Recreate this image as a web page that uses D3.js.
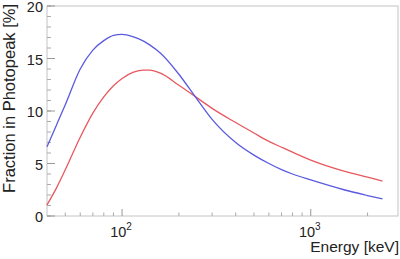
<!DOCTYPE html>
<html>
<head>
<meta charset="utf-8">
<script src="https://d3js.org/d3.v7.min.js"></script>
<style>
  body { margin: 0; background: #fff; }
  * { font-family: "Liberation Sans", Arial, sans-serif; }
</style>
</head>
<body>
<svg id="chart" width="400" height="259"></svg>
<script>
// energies in keV
const energy = [40, 45, 50, 60, 70, 80, 90, 100, 115, 130, 140, 160, 200, 250, 300, 400, 500, 600, 700, 800, 1000, 1500, 2000, 2400];
// blue curve (fraction in photopeak, %)
const blueVals = [6.6, 8.7, 10.6, 14.0, 15.8, 16.7, 17.2, 17.3, 17.05, 16.65, 16.3, 15.5, 13.5, 11.1, 9.2, 7.0, 5.8, 5.0, 4.42, 4.0, 3.43, 2.5, 1.95, 1.62];
// red curve
const redVals = [1.05, 2.7, 4.4, 7.5, 9.8, 11.35, 12.4, 13.1, 13.7, 13.9, 13.9, 13.6, 12.45, 11.25, 10.25, 8.9, 7.9, 7.1, 6.55, 6.08, 5.33, 4.28, 3.7, 3.33];

const yMajor = [0, 5, 10, 15, 20];
const yMinor = d3.range(0, 21, 1);
const xMajor = [100, 1000];
const xMajorExp = ["2", "3"];
const xMinor = [50, 60, 70, 80, 90, 200, 300, 400, 500, 600, 700, 800, 900, 2000];

const svg = d3.select("#chart");
const margin = { top: 6, right: 2, bottom: 43, left: 47 };
const width = +svg.attr("width");
const height = +svg.attr("height");
const chartWidth = width - margin.left - margin.right;
const chartHeight = height - margin.top - margin.bottom;

const xScale = d3.scaleLog().domain([40, 2900]).range([0, chartWidth]);
const yScale = d3.scaleLinear().domain([0, 20]).range([chartHeight, 0]);

const g = svg.append("g").attr("transform", `translate(${margin.left},${margin.top})`);

// frame
g.append("rect")
  .attr("x", 0).attr("y", 0)
  .attr("width", chartWidth).attr("height", chartHeight)
  .attr("fill", "none").attr("stroke", "#c4c4c4").attr("stroke-width", 1);

// y ticks (inward)
g.selectAll("line.ymin").data(yMinor).join("line")
  .attr("x1", 0).attr("x2", 4)
  .attr("y1", d => yScale(d)).attr("y2", d => yScale(d))
  .attr("stroke", "#aaa");
g.selectAll("line.ymaj").data(yMajor).join("line")
  .attr("x1", 0).attr("x2", 8)
  .attr("y1", d => yScale(d)).attr("y2", d => yScale(d))
  .attr("stroke", "#999");
g.selectAll("text.ylab").data(yMajor).join("text")
  .attr("x", -4).attr("y", d => yScale(d) + 6)
  .attr("text-anchor", "end")
  .style("font-size", "14.5px").style("fill", "#222")
  .text(d => d);

// x ticks (inward)
g.selectAll("line.xmin").data(xMinor).join("line")
  .attr("x1", d => xScale(d)).attr("x2", d => xScale(d))
  .attr("y1", chartHeight).attr("y2", chartHeight - 3.5)
  .attr("stroke", "#aaa");
g.selectAll("line.xmaj").data(xMajor).join("line")
  .attr("x1", d => xScale(d)).attr("x2", d => xScale(d))
  .attr("y1", chartHeight).attr("y2", chartHeight - 7)
  .attr("stroke", "#999");
const xl = g.selectAll("text.xlab").data(xMajor).join("text")
  .attr("x", d => xScale(d) - 1).attr("y", chartHeight + 21)
  .attr("text-anchor", "middle")
  .style("font-size", "14.5px").style("fill", "#222");
xl.append("tspan").text("10");
xl.append("tspan").attr("dy", -7).style("font-size", "10px").text((d, i) => xMajorExp[i]);

// curves
const line = d3.line()
  .x((d, i) => xScale(energy[i]))
  .y(d => yScale(d))
  .curve(d3.curveMonotoneX);

g.append("path").datum(redVals)
  .attr("d", line).attr("fill", "none")
  .attr("stroke", "#e8585f").attr("stroke-width", 1.3);
g.append("path").datum(blueVals)
  .attr("d", line).attr("fill", "none")
  .attr("stroke", "#5a5ae0").attr("stroke-width", 1.3);

// axis titles
svg.append("text")
  .attr("x", 399).attr("y", 252)
  .attr("text-anchor", "end")
  .style("font-size", "15.5px").style("fill", "#222")
  .text("Energy [keV]");

svg.append("text")
  .attr("transform", "translate(15,4) rotate(-90)")
  .attr("text-anchor", "end")
  .style("font-size", "16.5px").style("fill", "#222")
  .text("Fraction in Photopeak [%]");
</script>
</body>
</html>
